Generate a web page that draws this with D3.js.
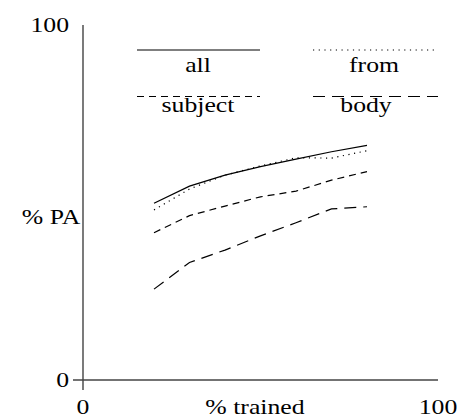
<!DOCTYPE html>
<html><head><meta charset="utf-8">
<script src="https://cdn.jsdelivr.net/npm/d3@7"></script>
<style>
html,body{margin:0;padding:0;background:#fff;}
</style></head>
<body>
<svg id="c" width="459" height="419"></svg>
<script>
const trained = [20, 30, 40, 50, 60, 70, 80];
const seriesNames = ["all", "from", "subject", "body"];
const allVals = [49.8, 54.6, 57.7, 60.1, 62.2, 64.3, 66.1];
const fromVals = [47.9, 53.8, 57.7, 60.3, 62.6, 62.5, 64.6];
const subjectVals = [41.5, 46.3, 49.0, 51.6, 53.2, 56.3, 58.7];
const bodyVals = [25.6, 33.1, 36.6, 40.6, 44.3, 48.2, 48.8];
const xTicks = [0, 100];
const yTicks = [0, 100];

const FONT = "'Times New Roman', serif";
const SX = 1.17;
const svg = d3.select("#c");
const x = d3.scaleLinear().domain([0, 100]).range([83, 438]);
const y = d3.scaleLinear().domain([0, 100]).range([380, 25]);

const dashes = {all: null, from: "1.2,4.5", subject: "7,5", body: "12,7"};
const data = [allVals, fromVals, subjectVals, bodyVals];

function label(px, py, anchor, str) {
  return svg.append("text")
    .attr("transform", `translate(${px},${py}) scale(${SX},1)`)
    .attr("text-anchor", anchor)
    .style("font-family", FONT).style("font-size", "22px").attr("fill", "#000")
    .text(str);
}

// axes
svg.append("line").attr("x1", x(0)).attr("x2", x(0)).attr("y1", y(100)).attr("y2", y(0) + 10)
  .attr("stroke", "#333").attr("stroke-width", 1.3);
svg.append("line").attr("x1", x(0) - 10).attr("x2", x(100)).attr("y1", y(0)).attr("y2", y(0))
  .attr("stroke", "#444").attr("stroke-width", 1.6);

yTicks.forEach(d => label(69, y(d) + 7, "end", d));
xTicks.forEach(d => label(x(d), 414, "middle", d));

label(51, 224, "middle", "% PA");
label(255, 414, "middle", "% trained");

const line = d3.line().x((d, i) => x(trained[i])).y(d => y(d));
seriesNames.forEach((name, k) => {
  svg.append("path").datum(data[k]).attr("d", line)
    .attr("fill", "none").attr("stroke", "#000").attr("stroke-width", 1.2)
    .attr("stroke-dasharray", dashes[name]);
});

// legend
const legPos = [
  {x1: 137, x2: 260, ly: 50, tx: 198, ty: 72},
  {x1: 313, x2: 438, ly: 50, tx: 374, ty: 72},
  {x1: 137, x2: 260, ly: 96.5, tx: 198, ty: 112},
  {x1: 313, x2: 438, ly: 96.5, tx: 366, ty: 112}
];
seriesNames.forEach((name, k) => {
  const p = legPos[k];
  svg.append("line").attr("x1", p.x1).attr("x2", p.x2).attr("y1", p.ly).attr("y2", p.ly)
    .attr("stroke", "#000").attr("stroke-width", 1.2).attr("stroke-dasharray", dashes[name]);
  label(p.tx, p.ty, "middle", name);
});
</script>
</body></html>
